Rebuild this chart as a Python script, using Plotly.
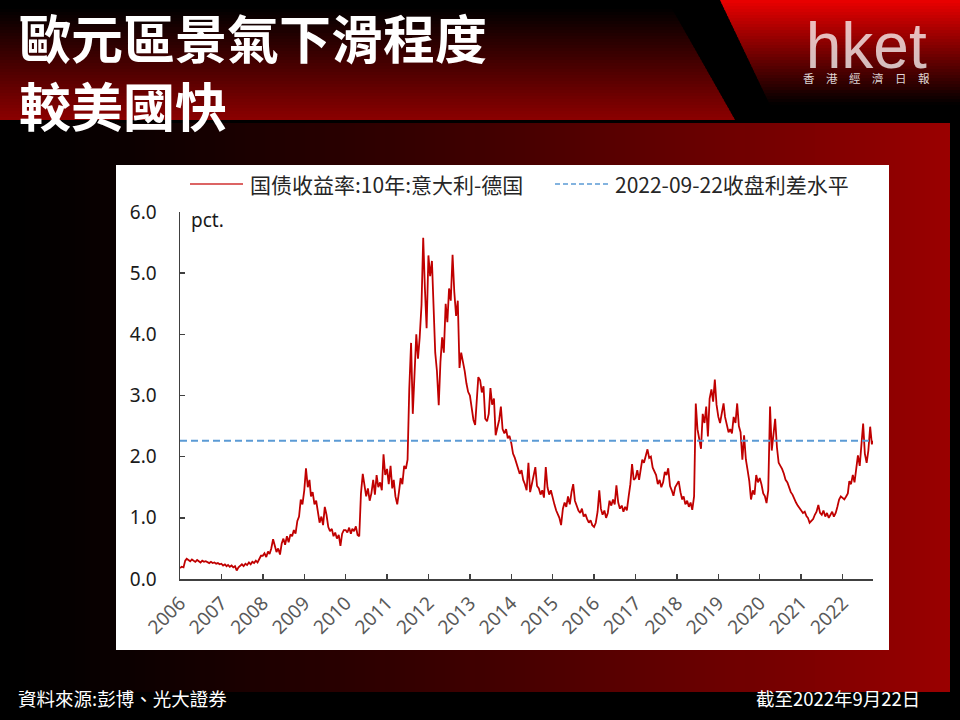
import plotly.graph_objects as go

W, H = 960, 720

# ---------------- data ----------------
years = list(range(2006, 2023))

v2006 = [0.18, 0.20, 0.19, 0.30, 0.33, 0.31, 0.29, 0.32, 0.30, 0.28, 0.31, 0.29,
         0.27, 0.30, 0.28, 0.29, 0.27, 0.26, 0.28, 0.26, 0.27, 0.25, 0.26, 0.24]
v2007 = [0.25, 0.22, 0.24, 0.21, 0.23, 0.20, 0.22, 0.19, 0.21, 0.14, 0.19, 0.22,
         0.24, 0.21, 0.25, 0.23, 0.27, 0.24, 0.28, 0.26, 0.30, 0.27, 0.34, 0.38]
v2008 = [0.38, 0.42, 0.36, 0.45, 0.41, 0.50, 0.65, 0.55, 0.44, 0.50, 0.40, 0.58,
         0.66, 0.56, 0.70, 0.60, 0.73, 0.70, 0.80, 0.74, 0.95, 1.02, 1.30, 1.22]
v2009 = [1.45, 1.81, 1.50, 1.62, 1.35, 1.42, 1.22, 1.28, 1.05, 0.92, 1.02, 0.88,
         1.18, 1.05, 0.85, 0.78, 0.82, 0.70, 0.76, 0.66, 0.72, 0.54, 0.74, 0.80]
v2010 = [0.80, 0.76, 0.84, 0.74, 0.82, 0.78, 0.86, 0.72, 0.70, 1.40, 1.72, 1.55,
         1.35, 1.48, 1.28, 1.40, 1.62, 1.38, 1.70, 1.50, 1.58, 1.45, 2.04, 1.70]
v2011 = [1.80, 1.55, 1.85, 1.48, 1.62, 1.35, 1.22, 1.42, 1.65, 1.55, 1.85, 1.80,
         1.95, 3.10, 3.86, 2.70, 3.55, 4.00, 3.60, 3.95, 4.48, 5.58, 4.75, 4.10]
v2012 = [5.29, 4.95, 5.20, 4.30, 3.70, 3.40, 2.84, 3.55, 3.95, 3.70, 4.50, 4.20,
         4.75, 4.55, 5.30, 4.70, 4.30, 4.55, 3.45, 3.70, 3.55, 3.40, 3.20, 3.06]
v2013 = [3.00, 2.80, 2.60, 2.52, 2.90, 3.30, 3.25, 3.05, 3.15, 2.62, 2.58, 2.70,
         3.12, 2.85, 2.95, 2.35, 2.48, 2.60, 2.82, 2.45, 2.38, 2.45, 2.30, 2.34]
v2014 = [2.22, 2.05, 1.98, 1.88, 1.80, 1.72, 1.78, 1.62, 1.55, 1.45, 1.90, 1.42,
         1.55, 1.68, 1.83, 1.52, 1.48, 1.38, 1.45, 1.33, 1.83, 1.50, 1.38, 1.45]
v2015 = [1.30, 1.22, 1.12, 1.05, 1.00, 0.88, 1.15, 1.25, 1.18, 1.35, 1.22, 1.42,
         1.55, 1.28, 1.18, 1.12, 1.08, 1.15, 1.02, 1.06, 0.98, 0.92, 0.96, 0.88]
v2016 = [0.85, 0.92, 1.10, 1.45, 1.15, 1.05, 1.12, 1.00, 1.08, 1.28, 1.20, 1.30,
         1.22, 1.53, 1.25, 1.15, 1.20, 1.10, 1.18, 1.12, 1.35, 1.55, 1.88, 1.62]
v2017 = [1.65, 1.78, 1.62, 1.80, 1.95, 1.90, 2.02, 2.12, 1.98, 2.00, 1.82, 1.75,
         1.70, 1.55, 1.62, 1.50, 1.58, 1.75, 1.70, 1.81, 1.52, 1.45, 1.36, 1.50]
v2018 = [1.55, 1.60, 1.42, 1.30, 1.35, 1.22, 1.28, 1.18, 1.25, 1.13, 1.35, 2.87,
         2.45, 2.30, 2.13, 2.70, 2.55, 2.82, 2.33, 2.95, 3.10, 2.90, 3.26, 2.85]
v2019 = [2.65, 2.55, 2.75, 2.87, 2.65, 2.50, 2.40, 2.45, 2.38, 2.65, 2.55, 2.87,
         2.50, 2.40, 1.95, 2.35, 1.95, 1.78, 1.60, 1.30, 1.45, 1.38, 1.70, 1.58]
v2020 = [1.65, 1.55, 1.40, 1.35, 1.24, 1.45, 2.82, 2.10, 2.38, 2.62, 2.15, 1.90,
         1.85, 1.80, 1.72, 1.62, 1.58, 1.50, 1.42, 1.38, 1.30, 1.25, 1.20, 1.15]
v2021 = [1.12, 1.08, 1.10, 1.03, 1.00, 0.92, 0.95, 0.98, 1.05, 1.10, 1.21, 1.08,
         1.05, 1.12, 1.02, 1.08, 1.00, 1.05, 1.10, 1.02, 1.08, 1.18, 1.30, 1.35]
v2022 = [1.32, 1.30, 1.35, 1.40, 1.60, 1.55, 1.70, 1.58, 1.80, 2.02, 1.85, 2.22,
         2.54, 2.05, 1.90, 2.10, 2.49, 2.20]
close_date = "2022-09-22"
close_value = 2.26

yearly_values = [v2006, v2007, v2008, v2009, v2010, v2011, v2012, v2013, v2014,
                 v2015, v2016, v2017, v2018, v2019, v2020, v2021, v2022]

year_tickvals = [f"{y}-01-01" for y in years]
year_ticktext = [str(y) for y in years]
y_tickvals = [0, 1, 2, 3, 4, 5, 6]
y_ticktext = ["0.0", "1.0", "2.0", "3.0", "4.0", "5.0", "6.0"]

title_lines = ["歐元區景氣下滑程度", "較美國快"]
legend_main = "国债收益率:10年:意大利-德国"
legend_close = "2022-09-22收盘利差水平"
unit_text = "pct."
source_text = "資料來源:彭博、光大證券"
asof_text = "截至2022年9月22日"
logo_text = "hket"
logo_sub = "香　港　經　濟　日　報"

# semi-monthly observation dates
dates, values = [], []
for yr, vals in zip(years, yearly_values):
    for k, v in enumerate(vals):
        dates.append(f"{yr}-{k // 2 + 1:02d}-{1 if k % 2 == 0 else 16:02d}")
        values.append(v)
dates.append(close_date)
values.append(close_value)


def X(px):
    return px / W


def Y(py):
    return 1 - py / H


shapes = []

# header left zone: vertical gradient black -> dark red, slanted right edge
for y0 in range(0, 120, 3):
    y1 = min(y0 + 4, 120)
    ym = y0 + 1.5
    r = int(round(140 * max(0.0, (ym - 8) / 112)))
    xa = 667 + 0.567 * y0
    xb = 667 + 0.567 * y1
    path = (f"M {X(0)},{Y(y0)} L {X(xa)},{Y(y0)} L {X(xb)},{Y(y1)} "
            f"L {X(0)},{Y(y1)} Z")
    shapes.append(dict(type="path", xref="paper", yref="paper", path=path,
                       fillcolor=f"rgb({r},0,0)", line=dict(width=0), layer="below"))

# header right (logo) zone: red at top fading to black
for y0 in range(0, 107, 3):
    y1 = min(y0 + 4, 107)
    ym = y0 + 1.5
    r = int(round(235 * max(0.0, 1 - ym / 105)))
    xa = 720 + (51 / 107) * y0
    xb = 720 + (51 / 107) * y1
    path = (f"M {X(xa)},{Y(y0)} L {X(W)},{Y(y0)} L {X(W)},{Y(y1)} "
            f"L {X(xb)},{Y(y1)} Z")
    shapes.append(dict(type="path", xref="paper", yref="paper", path=path,
                       fillcolor=f"rgb({r},0,0)", line=dict(width=0), layer="below"))

# backdrop behind the chart: horizontal gradient black -> red
for x0 in range(0, 950, 5):
    x1 = min(x0 + 6, 950)
    r = int(round(155 * ((x0 + 2.5) / 950) ** 1.3))
    shapes.append(dict(type="rect", xref="paper", yref="paper",
                       x0=X(x0), x1=X(x1), y0=Y(692), y1=Y(123),
                       fillcolor=f"rgb({r},0,0)", line=dict(width=0), layer="below"))

# white chart panel
shapes.append(dict(type="rect", xref="paper", yref="paper",
                   x0=X(116), x1=X(889), y0=Y(650), y1=Y(165),
                   fillcolor="white", line=dict(width=0), layer="below"))

# legend samples
shapes.append(dict(type="line", xref="paper", yref="paper",
                   x0=X(190), x1=X(243), y0=Y(184), y1=Y(184),
                   line=dict(color="#d03030", width=1.3)))
shapes.append(dict(type="line", xref="paper", yref="paper",
                   x0=X(555), x1=X(610), y0=Y(184), y1=Y(184),
                   line=dict(color="#5b9bd5", width=1.5, dash="5px,3px")))

fig = go.Figure()
fig.add_trace(go.Scatter(x=dates, y=values, mode="lines",
                         line=dict(color="#c00000", width=1.8),
                         hoverinfo="skip"))
fig.add_trace(go.Scatter(x=[dates[0], dates[-1]], y=[close_value, close_value],
                         mode="lines",
                         line=dict(color="#5b9bd5", width=2, dash="7px,4px"),
                         hoverinfo="skip"))

cjk_tc = "Noto Sans CJK TC"
cjk_sc = "Noto Sans CJK SC"

logo_block = (f'<span style="font-size:64px;font-family:Liberation Sans;'
              f'fill:rgba(255,255,255,0.88)">{logo_text}</span><br>{logo_sub}')

annotations = [
    dict(text="<br>".join(f"<b>{t}</b>" for t in title_lines),
         x=X(17), y=Y(70.5), xanchor="left", yanchor="middle", align="left",
         font=dict(family=cjk_tc, size=52, color="white")),
    dict(text=logo_block, x=X(866), y=Y(9), xanchor="center", yanchor="top",
         align="center", borderpad=0,
         font=dict(family=cjk_tc, size=11.5, color="rgba(255,255,255,0.85)")),
    dict(text=legend_main, x=X(248), y=Y(184), xanchor="left", yanchor="middle",
         font=dict(family=cjk_sc, size=21, color="#262626")),
    dict(text=legend_close, x=X(613), y=Y(184), xanchor="left", yanchor="middle",
         font=dict(family=cjk_sc, size=21, color="#262626")),
    dict(text=unit_text, x=X(189), y=Y(220), xanchor="left", yanchor="middle",
         font=dict(family="Noto Sans", size=19, color="#1a1a1a")),
    dict(text=source_text, x=X(16), y=Y(698), xanchor="left", yanchor="middle",
         font=dict(family=cjk_tc, size=18.5, color="white")),
    dict(text=asof_text, x=X(922), y=Y(698), xanchor="right", yanchor="middle",
         font=dict(family=cjk_tc, size=18.5, color="white")),
]
for a in annotations:
    a.update(xref="paper", yref="paper", showarrow=False)

axis_color = "#404040"
fig.update_layout(
    width=W, height=H, autosize=False,
    margin=dict(l=0, r=0, t=0, b=0, pad=0, autoexpand=False),
    paper_bgcolor="black", plot_bgcolor="rgba(0,0,0,0)",
    showlegend=False,
    shapes=shapes,
    annotations=annotations,
    xaxis=dict(domain=[X(180), X(873)], type="date",
               range=["2006-01-01", "2022-09-26"],
               tickmode="array", tickvals=year_tickvals, ticktext=year_ticktext,
               tickangle=-45, ticks="inside", ticklen=5, tickwidth=1.5,
               tickcolor=axis_color, showline=True, linecolor=axis_color,
               linewidth=1.5, showgrid=False, zeroline=False, automargin=False,
               tickfont=dict(family="Noto Sans", size=19, color="#595959"),
               ticklabelstandoff=4, fixedrange=True),
    yaxis=dict(domain=[Y(579), Y(212)], range=[0, 6],
               tickmode="array", tickvals=y_tickvals, ticktext=y_ticktext,
               ticks="inside", ticklen=5, tickwidth=1.5, tickcolor=axis_color,
               showline=True, linecolor=axis_color, linewidth=1.5,
               showgrid=False, zeroline=False, automargin=False,
               tickfont=dict(family="Noto Sans", size=19, color="#1a1a1a"),
               ticklabelstandoff=18, fixedrange=True),
)

fig.write_html("out.html",
               config={"displayModeBar": False, "staticPlot": True},
               post_script="document.body.style.margin='0';document.body.style.overflow='hidden';")
